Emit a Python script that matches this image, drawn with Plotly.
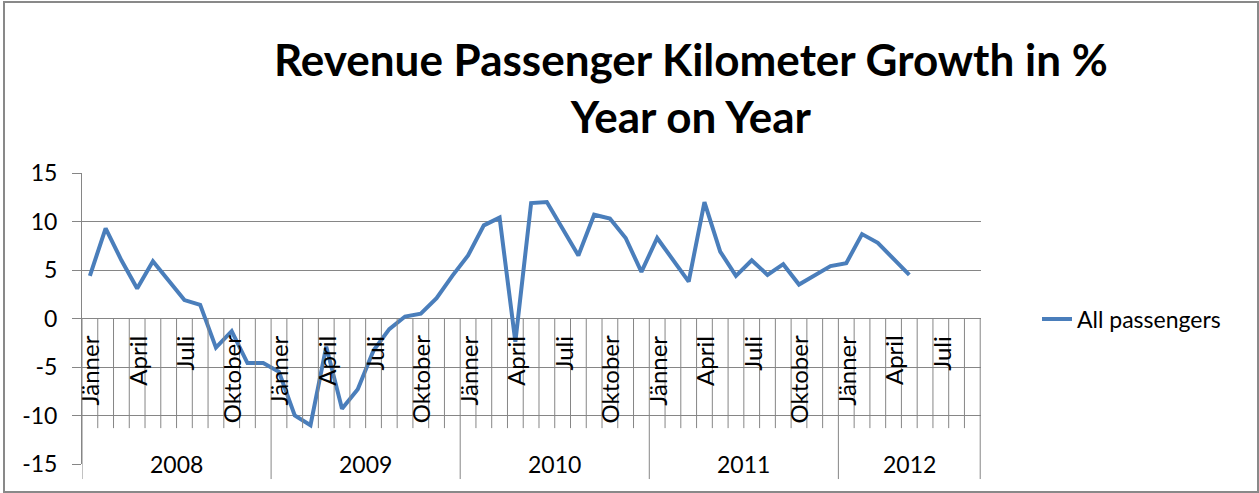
import plotly.graph_objects as go

# ---------------- data ----------------
years = ["2008", "2009", "2010", "2011", "2012"]
months_per_year = [12, 12, 12, 12, 9]
month_names = ["Jänner", "Februar", "März", "April", "Mai", "Juni",
               "Juli", "August", "September", "Oktober", "November", "Dezember"]
labelled_months = ["Jänner", "April", "Juli", "Oktober"]

growth_2008 = [4.4, 9.3, 6.0, 3.1, 5.9, 3.9, 1.9, 1.4, -3.0, -1.3, -4.6, -4.6]
growth_2009 = [-5.5, -10.0, -11.0, -2.9, -9.3, -7.3, -3.3, -1.1, 0.2, 0.5, 2.1, 4.4]
growth_2010 = [6.5, 9.6, 10.4, -2.4, 11.9, 12.0, 9.3, 6.5, 10.7, 10.3, 8.3, 4.8]
growth_2011 = [8.3, 6.1, 3.8, 12.0, 6.9, 4.4, 6.0, 4.5, 5.6, 3.5, 4.4, 5.4]
growth_2012 = [5.7, 8.7, 7.8, 6.1, 4.5, None, None, None, None]

y_ticks = [-15, -10, -5, 0, 5, 10, 15]
y_tick_labels = ["-15", "-10", "-5", "0", "5", "10", "15"]

series_name = "All passengers"
title_text = "Revenue Passenger Kilometer Growth in %<br>Year on Year"

# ---------------- build categories ----------------
values = growth_2008 + growth_2009 + growth_2010 + growth_2011 + growth_2012
cat_month = []
cat_year = []
for yr, n in zip(years, months_per_year):
    for m in range(n):
        cat_month.append(month_names[m])
        cat_year.append(yr)
n_cat = len(cat_month)
xs = list(range(n_cat))

# ---------------- layout constants ----------------
W, H = 1259, 493
ML, MR, MT, MB = 82, 278, 173, 29
PW, PH = W - ML - MR, H - MT - MB
YMIN, YMAX = -15, 15
XMIN, XMAX = -0.5, n_cat - 0.45

GRID = "#868686"
LINE_BLUE = "#4A7EBB"
FONT = "Lato"

def px_x(px):
    return (px - ML) / PW

def px_y(py):
    return (H - MB - py) / PH

def data_to_paper_y(v):
    return (v - YMIN) / (YMAX - YMIN)

MONTH_SEP_BOTTOM = -11.3   # depth of month separators (data units)
YEAR_SEP_BOTTOM = -16.55   # depth of year separators (below plot area)

fig = go.Figure()
fig.add_trace(go.Scatter(
    x=xs, y=values, mode="lines", name=series_name,
    line=dict(color=LINE_BLUE, width=4),
    showlegend=True,
))

shapes = []
year_bounds = [0]
for n in months_per_year:
    year_bounds.append(year_bounds[-1] + n)
for k in range(n_cat + 1):
    xk = k - 0.5
    if k in year_bounds:
        shapes.append(dict(type="line", xref="x", yref="y", x0=xk, x1=xk,
                           y0=0, y1=YMIN, line=dict(color=GRID, width=1), layer="above"))
        shapes.append(dict(type="line", xref="x", yref="paper", x0=xk, x1=xk,
                           y0=0, y1=data_to_paper_y(YEAR_SEP_BOTTOM),
                           line=dict(color=GRID, width=1), layer="above"))
    else:
        shapes.append(dict(type="line", xref="x", yref="y", x0=xk, x1=xk,
                           y0=0, y1=MONTH_SEP_BOTTOM, line=dict(color=GRID, width=1),
                           layer="above"))
# outer chart border
shapes.append(dict(type="rect", xref="paper", yref="paper",
                   x0=px_x(4), x1=px_x(1258), y0=px_y(492), y1=px_y(2),
                   line=dict(color="#898989", width=2), layer="below"))

annotations = []
for i, (m, yr) in enumerate(zip(cat_month, cat_year)):
    if m in labelled_months:
        annotations.append(dict(x=i, y=0, xref="x", yref="y", text=m,
                                textangle=-90, showarrow=False,
                                xanchor="center", yanchor="top", yshift=-15,
                                font=dict(family=FONT, size=24, color="#000000")))
for yi, yr in enumerate(years):
    mid = (year_bounds[yi] + year_bounds[yi + 1] - 1) / 2
    annotations.append(dict(x=mid, y=YMIN, xref="x", yref="y", text=yr,
                            showarrow=False, xanchor="center", yanchor="middle",
                            font=dict(family=FONT, size=23, color="#000000")))
annotations.append(dict(x=px_x(691), y=px_y(88), xref="paper", yref="paper",
                        text="<b>" + title_text.replace("<br>", "</b><br><b>") + "</b>",
                        showarrow=False, xanchor="center", yanchor="middle",
                        align="center",
                        font=dict(family=FONT, size=44, color="#000000")))

fig.update_layout(
    width=W, height=H,
    margin=dict(l=ML, r=MR, t=MT, b=MB, pad=0),
    paper_bgcolor="white", plot_bgcolor="white",
    font=dict(family=FONT, size=23, color="#000000"),
    shapes=shapes, annotations=annotations,
    showlegend=True,
    legend=dict(x=px_x(1037), xanchor="left", y=px_y(319), yanchor="middle",
                font=dict(family=FONT, size=23, color="#000000"),
                bgcolor="rgba(0,0,0,0)"),
    xaxis=dict(range=[XMIN, XMAX], showgrid=False, zeroline=False,
               showticklabels=False, ticks="", showline=False, fixedrange=True),
    yaxis=dict(range=[YMIN, YMAX], tickvals=y_ticks, ticktext=y_tick_labels,
               showgrid=True, gridcolor=GRID, gridwidth=1,
               zeroline=True, zerolinecolor=GRID, zerolinewidth=1,
               showline=True, linecolor=GRID, linewidth=1,
               ticks="outside", ticklen=9, tickcolor=GRID, tickwidth=1,
               ticklabelstandoff=10,
               tickfont=dict(family=FONT, size=23, color="#000000"),
               fixedrange=True),
)

fig.write_html("out.html",
               config={"displayModeBar": False},
               post_script="document.body.style.margin='0';document.body.style.padding='0';")
